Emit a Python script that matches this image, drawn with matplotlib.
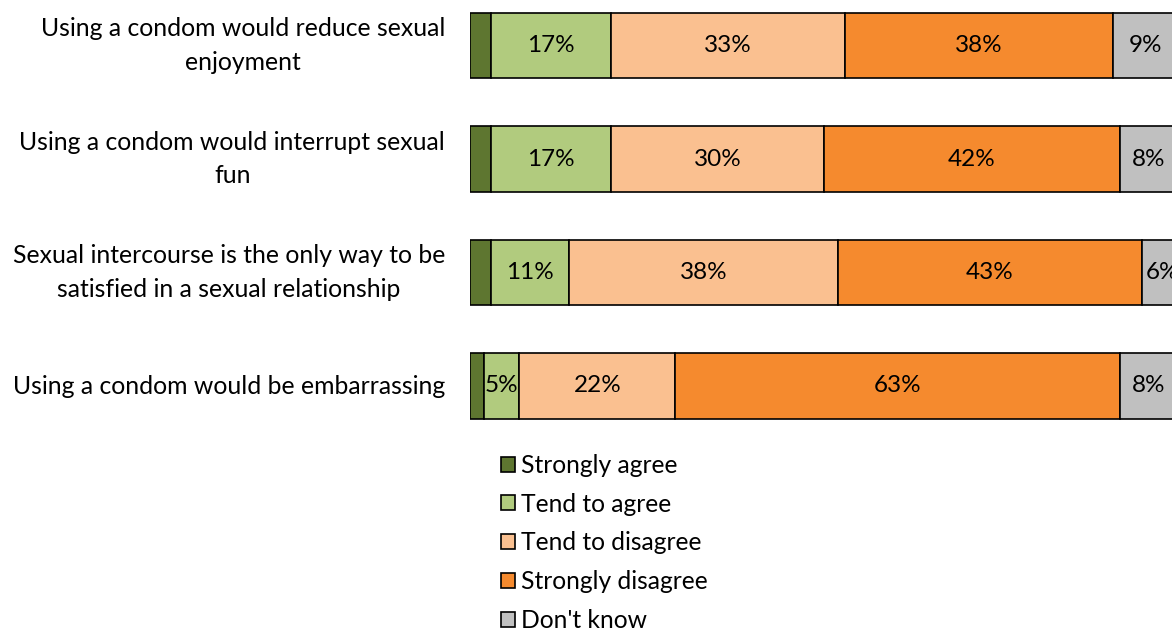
import matplotlib.pyplot as plt
import numpy as np

plt.rcParams['font.family'] = ['Lato', 'DejaVu Sans']

categories = ['Using a condom would reduce sexual\nenjoyment',
              'Using a condom would interrupt sexual\nfun',
              'Sexual intercourse is the only way to be\nsatisfied in a sexual relationship',
              'Using a condom would be embarrassing']
series = ['Strongly agree', 'Tend to agree', 'Tend to disagree', 'Strongly disagree', "Don't know"]
strongly_agree = [3, 3, 3, 2]
tend_agree = [17, 17, 11, 5]
tend_disagree = [33, 30, 38, 22]
strongly_disagree = [38, 42, 43, 63]
dont_know = [9, 8, 6, 8]
colors = ['#5E7630', '#B1CB7E', '#FAC090', '#F58A2E', '#C0C0C0']

fig = plt.figure(figsize=(11.72, 6.29), dpi=100)
# axis runs past the right and top edges of the picture, like the original
ax_top = -11.25
ax_h = 454
ax = fig.add_axes([470 / 1172, 1 - (ax_top + ax_h) / 629, 707 / 1172, ax_h / 629])

data = [strongly_agree, tend_agree, tend_disagree, strongly_disagree, dont_know]
y = np.arange(len(categories))
left = np.zeros(len(categories))
handles = []
for i, vals in enumerate(data):
    vals = np.array(vals, dtype=float)
    b = ax.barh(y, vals, left=left, height=0.573, color=colors[i],
                edgecolor='black', linewidth=1.2, label=series[i])
    handles.append(b)
    if i > 0:
        for yy, l, v in zip(y, left, vals):
            ax.text(l + v / 2, yy, f'{int(v)}%', ha='center', va='center',
                    fontsize=17.5, color='black')
    left += vals

ax.set_xlim(0, 100)
ax.set_ylim(3.5, -0.5)
ax.set_yticks(y)
ax.set_yticklabels(categories, fontsize=17.8, ha='right', va='center',
                   multialignment='center', linespacing=1.55)
ax.tick_params(axis='y', length=0, pad=18)
ax.set_xticks([])
for s in ax.spines.values():
    s.set_visible(False)

fig.legend(handles=handles, labels=series, loc='upper left',
           bbox_to_anchor=(491 / 1172, 1 - 444 / 629), frameon=False,
           fontsize=17.7, handlelength=0.57, handleheight=0.57,
           handletextpad=0.25, labelspacing=0.64, borderaxespad=0)

fig.savefig('out.png', dpi=100)
